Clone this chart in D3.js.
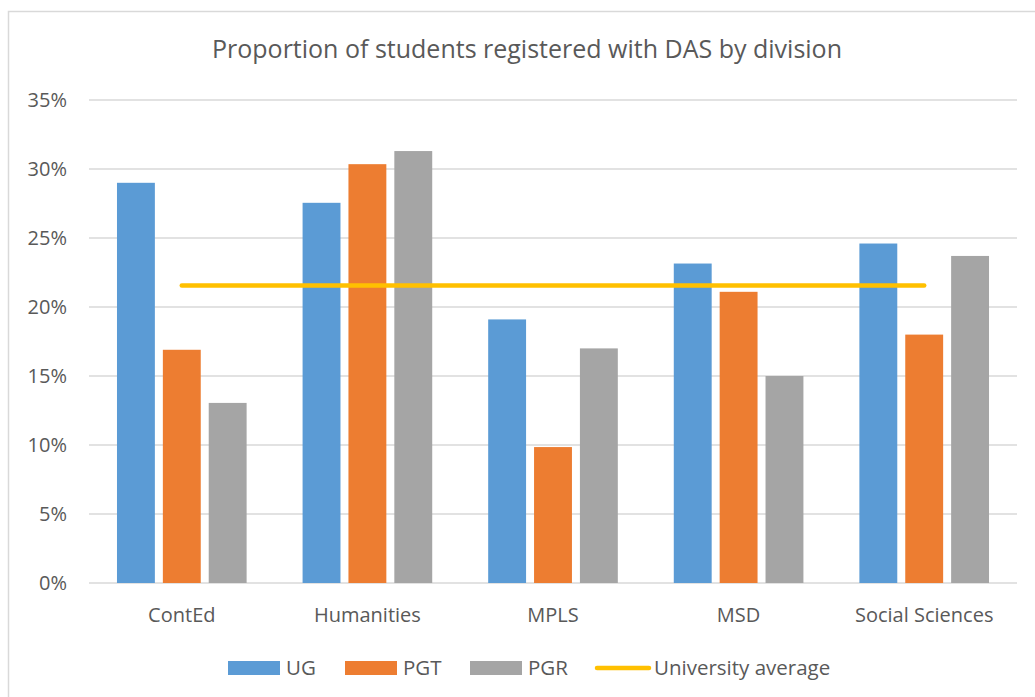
<!DOCTYPE html>
<html lang="en">
<head>
    <meta charset="UTF-8">
    <title>DAS by division</title>
    <script src="https://d3js.org/d3.v7.min.js"></script>
    <style>
        body { margin: 0; background: #fff; }
        text { font-family: "Open Sans", sans-serif; fill: #595959; }
    </style>
</head>
<body>
<svg id="viz"></svg>

<script>
    // data
    var divisions = ['ContEd', 'Humanities', 'MPLS', 'MSD', 'Social Sciences'];
    var seriesNames = ['UG', 'PGT', 'PGR'];
    var ug  = [29.0, 27.55, 19.1, 23.15, 24.6];
    var pgt = [16.9, 30.35, 9.85, 21.1, 18.0];
    var pgr = [13.05, 31.3, 17.0, 15.0, 23.7];
    var uniAverage = 21.55;
    var yTicks = [0, 5, 10, 15, 20, 25, 30, 35];
    var colors = ['#5b9bd5', '#ed7d31', '#a5a5a5'];
    var avgColor = '#ffc000';

    var W = 1035, H = 697;
    var svg = d3.select('#viz').attr('width', W).attr('height', H);

    // chart frame (runs off right/bottom edge like the original crop)
    svg.append('rect')
        .attr('x', 8.5).attr('y', 11.5)
        .attr('width', 1100).attr('height', 800)
        .attr('fill', 'none')
        .attr('stroke', '#d9d9d9')
        .attr('stroke-width', 1.5);

    var plotLeft = 89, plotRight = 1017, plotTop = 100, plotBottom = 583;

    var y = d3.scaleLinear().domain([0, 35]).range([plotBottom, plotTop]);
    var x = d3.scaleBand().domain(divisions).range([plotLeft, plotRight]).padding(0);
    var xs = d3.scaleBand().domain(seriesNames).range([0, x.bandwidth()])
        .paddingInner(0.174).paddingOuter(0.61);

    // title
    svg.append('text')
        .attr('x', 527).attr('y', 58)
        .attr('text-anchor', 'middle')
        .style('font-size', '25px')
        .text('Proportion of students registered with DAS by division');

    // gridlines
    svg.selectAll('.grid')
        .data(yTicks)
        .enter()
        .append('line')
        .attr('class', 'grid')
        .attr('x1', plotLeft).attr('x2', plotRight)
        .attr('y1', function (d) { return y(d); })
        .attr('y2', function (d) { return y(d); })
        .attr('stroke', '#d9d9d9')
        .attr('stroke-width', 1.5);

    // y axis labels
    var yAxis = d3.axisLeft(y).tickValues(yTicks)
        .tickFormat(function (d) { return d + '%'; })
        .tickSize(0).tickPadding(0);
    var gy = svg.append('g').attr('transform', 'translate(67,0)').call(yAxis);
    gy.select('.domain').remove();
    gy.selectAll('text').style('font-size', '20px').attr('fill', '#595959');

    // bars
    var seriesData = [ug, pgt, pgr];
    seriesData.forEach(function (vals, si) {
        svg.selectAll('.bar' + si)
            .data(vals)
            .enter()
            .append('rect')
            .attr('class', 'bar' + si)
            .attr('x', function (d, i) { return x(divisions[i]) + xs(seriesNames[si]); })
            .attr('y', function (d) { return y(d); })
            .attr('width', xs.bandwidth())
            .attr('height', function (d) { return y(0) - y(d); })
            .attr('fill', colors[si]);
    });

    // university average line
    svg.append('line')
        .attr('x1', x(divisions[0]) + x.bandwidth() / 2)
        .attr('x2', x(divisions[divisions.length - 1]) + x.bandwidth() / 2)
        .attr('y1', y(uniAverage)).attr('y2', y(uniAverage))
        .attr('stroke', avgColor)
        .attr('stroke-width', 4.5)
        .attr('stroke-linecap', 'round');

    // x axis labels
    var xAxis = d3.axisBottom(x).tickSize(0).tickPadding(0);
    var gx = svg.append('g').attr('transform', 'translate(0,' + plotBottom + ')').call(xAxis);
    gx.select('.domain').remove();
    gx.selectAll('text')
        .attr('dy', 0).attr('y', 39)
        .style('font-size', '20px').attr('fill', '#595959');

    // legend
    var legendItems = seriesNames.concat(['University average']);
    var legendX = [228, 345, 470, 595];
    var lg = svg.selectAll('.legend')
        .data(legendItems)
        .enter()
        .append('g')
        .attr('class', 'legend')
        .attr('transform', function (d, i) { return 'translate(' + legendX[i] + ',668)'; });
    lg.each(function (d, i) {
        var g = d3.select(this);
        if (i < 3) {
            g.append('rect').attr('x', 0).attr('y', -7).attr('width', 52).attr('height', 14)
                .attr('fill', colors[i]);
        } else {
            g.append('line').attr('x1', 2).attr('x2', 54).attr('y1', 0).attr('y2', 0)
                .attr('stroke', avgColor).attr('stroke-width', 4.5)
                .attr('stroke-linecap', 'round');
        }
        g.append('text')
            .attr('x', i < 3 ? 58 : 59)
            .attr('y', 7)
            .style('font-size', '20.5px')
            .text(d);
    });
</script>
</body>
</html>
